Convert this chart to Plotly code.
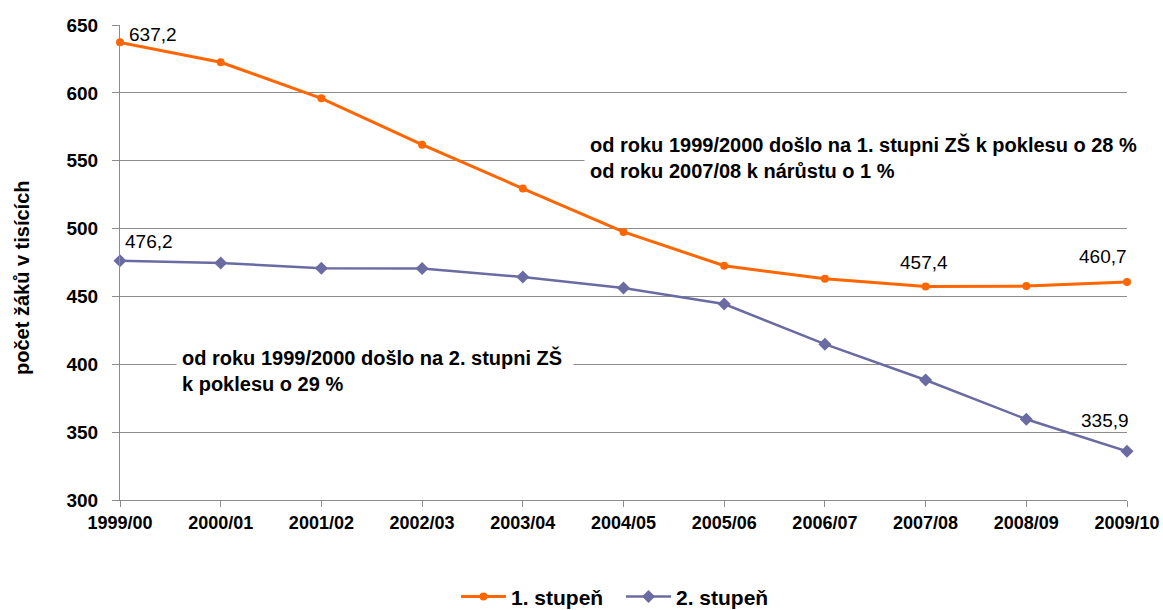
import plotly.graph_objects as go

years = ["1999/00", "2000/01", "2001/02", "2002/03", "2003/04", "2004/05",
         "2005/06", "2006/07", "2007/08", "2008/09", "2009/10"]
stupen1 = [637.2, 622.5, 596.0, 561.8, 529.5, 497.5, 472.6, 463.0, 457.4, 457.6, 460.7]
stupen2 = [476.2, 474.6, 470.8, 470.6, 464.3, 456.2, 444.4, 414.8, 388.4, 359.5, 335.9]

fig = go.Figure()
fig.add_trace(go.Scatter(x=years, y=stupen1, name="1. stupeň", mode="lines+markers",
                         line=dict(color="#FF6600", width=3),
                         marker=dict(symbol="circle", size=8, color="#FF6600"),
                         cliponaxis=False))
fig.add_trace(go.Scatter(x=years, y=stupen2, name="2. stupeň", mode="lines+markers",
                         line=dict(color="#6B6BA3", width=2.5),
                         marker=dict(symbol="diamond", size=10, color="#6B6BA3"),
                         cliponaxis=False))

ann = []
lab_font = dict(family="Liberation Sans, Arial", size=19, color="black")
# (series, index, text, xanchor, xshift, yshift)
labels = [
    (stupen1, 0, "637,2", "left", 7, 8),
    (stupen1, 8, "457,4", "center", -2, 24),
    (stupen1, 10, "460,7", "center", -24, 25),
    (stupen2, 0, "476,2", "left", 3, 19),
    (stupen2, 10, "335,9", "center", -22, 31),
]
for ser, i, t, xa, xs, ys in labels:
    ann.append(dict(x=years[i], y=ser[i], text=t, showarrow=False,
                    xanchor=xa, yanchor="middle", xshift=xs, yshift=ys, font=lab_font))

note_font = dict(family="Liberation Sans, Arial", size=20, color="black")
ann.append(dict(xref="paper", yref="paper", x=(584-120)/1007, y=(500-157)/475,
                text="<b>od roku 1999/2000 došlo na 1. stupni ZŠ k poklesu o 28 %<br>od roku 2007/08 k nárůstu o 1 %</b>",
                showarrow=False, xanchor="left", yanchor="middle", align="left",
                bgcolor="white", borderpad=5, font=note_font))
ann.append(dict(xref="paper", yref="paper", x=(176-120)/1007, y=(500-370)/475,
                text="<b>od roku 1999/2000 došlo na 2. stupni ZŠ <br>k poklesu o 29 %</b>",
                showarrow=False, xanchor="left", yanchor="middle", align="left",
                bgcolor="white", borderpad=5, font=note_font))
ann.append(dict(xref="paper", yref="paper", x=(22-120)/1007, y=(500-278)/475,
                text="<b>počet žáků v tisících</b>", textangle=-90,
                showarrow=False, xanchor="center", yanchor="middle",
                font=dict(family="Liberation Sans, Arial", size=20, color="black")))

fig.update_layout(
    width=1163, height=610,
    margin=dict(l=120, r=36, t=25, b=110, autoexpand=False),
    plot_bgcolor="white", paper_bgcolor="white",
    font=dict(family="Liberation Sans, Arial", color="black"),
    annotations=ann,
    showlegend=True,
    legend=dict(orientation="h", x=(456-120)/1007, xanchor="left", y=-0.204, yanchor="middle",
                font=dict(size=21, family="Liberation Sans, Arial", weight="bold"),
                itemwidth=45, entrywidth=105, traceorder="normal"),
    xaxis=dict(type="category", range=[0, 10], showgrid=False, automargin=False,
               showline=True, linecolor="#8C8C8C", linewidth=1,
               ticks="outside", ticklen=6, tickcolor="#8C8C8C",
               tickfont=dict(size=18, family="Liberation Sans, Arial", weight="bold")),
    yaxis=dict(range=[300, 650], dtick=50, showgrid=True, gridcolor="#8C8C8C", gridwidth=1,
               showline=True, linecolor="#8C8C8C", linewidth=1, automargin=False,
               ticks="outside", ticklen=7, tickcolor="#8C8C8C", zeroline=False,
               ticklabelstandoff=10,
               tickfont=dict(size=19, family="Liberation Sans, Arial", weight="bold")),
)

fig.write_html("out.html", config={"displayModeBar": False},
               post_script="document.body.style.margin='0';document.body.style.overflow='hidden';")
